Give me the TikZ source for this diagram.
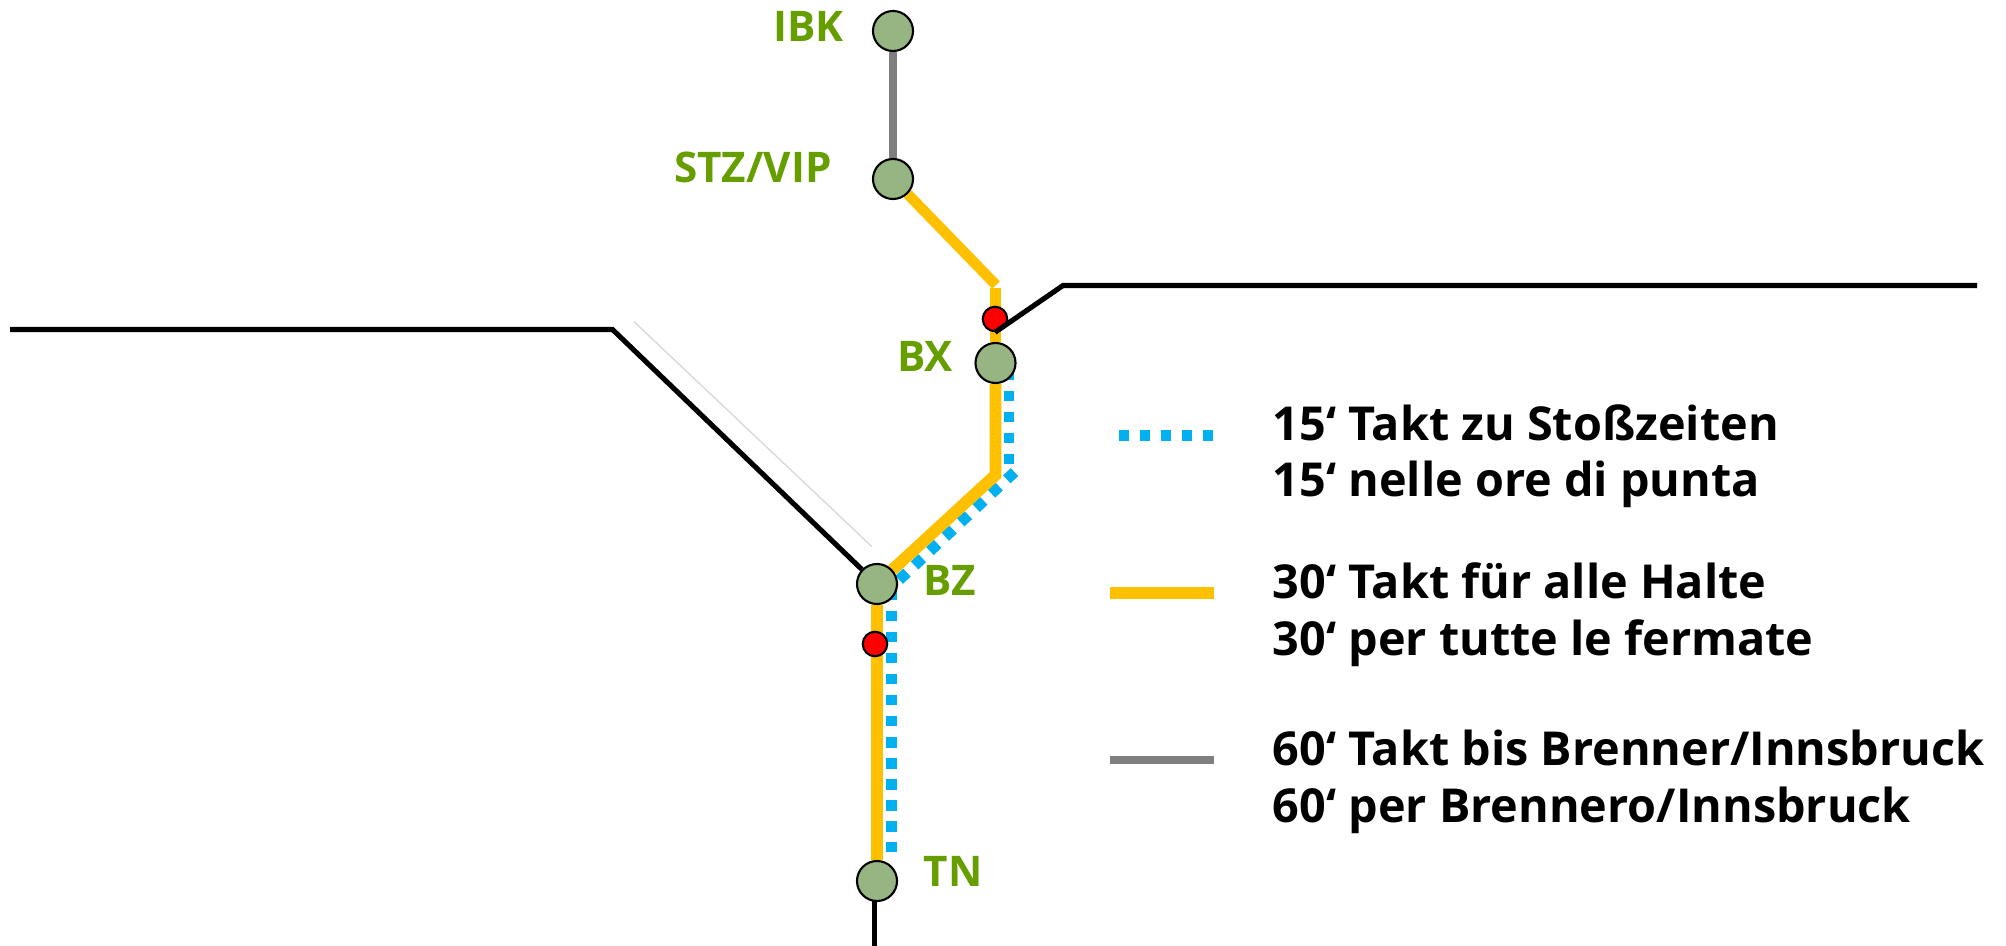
\documentclass[tikz,border=0pt]{standalone}
\usepackage{fontspec}
\setmainfont{Open Sans}
\usetikzlibrary{backgrounds}
\definecolor{stopfill}{HTML}{97B583}
\definecolor{labelgreen}{HTML}{669E00}
\definecolor{taktblue}{HTML}{00B0F0}
\definecolor{taktyellow}{HTML}{FFC000}
\definecolor{taktgrey}{HTML}{7F7F7F}
\tikzset{
  stop/.style={circle,draw=black,fill=stopfill,line width=0.6pt,inner sep=0pt,minimum size=0.4cm},
  halt/.style={circle,draw=black,fill=red,line width=0.6pt,inner sep=0pt,minimum size=0.245cm},
  stoplabel/.style={anchor=base west,inner sep=0pt,text=labelgreen,font=\fontsize{12}{14}\selectfont\bfseries},
  legendtext/.style={anchor=base west,inner sep=0pt,align=left,font=\fontsize{13.3}{15.93}\selectfont\bfseries},
  takt15/.style={draw=taktblue,line width=3.1pt,dash pattern=on 3pt off 2.98pt},
  takt30/.style={draw=taktyellow,line width=3.4pt},
  takt60/.style={draw=taktgrey,line width=2.5pt},
  border/.style={draw=black,line width=1.45pt}
}
\begin{document}
\begin{tikzpicture}[x=0.01cm,y=-0.01cm]
\useasboundingbox (0,0) rectangle (2006,946);

\node (IBK) at (893,31) [stop] {};
\node (STZ) at (893,179) [stop] {};
\node (BX) at (995.5,363) [stop] {};
\node (BZ) at (877,584) [stop] {};
\node (TN) at (877,881) [stop] {};
\node (HaltBX) at (995,319) [halt] {};
\node (HaltBZ) at (875,644) [halt] {};

\node (lblIBK) at (772.5,41.7) [stoplabel] {IBK};
\node (lblSTZ) at (673.5,183) [stoplabel] {STZ/VIP};
\node (lblBX) at (896.5,371.7) [stoplabel] {BX};
\node (lblBZ) at (922.5,595) [stoplabel] {BZ};
\node (lblTN) at (923,886) [stoplabel] {TN};

\coordinate (joinA) at (996,285);
\coordinate (joinA2) at (995.5,288);
\coordinate (joinB) at (995.5,475);
\coordinate (blueA) at (1009,369.75);
\coordinate (blueB) at (1009,469.75);
\coordinate (blueC) at (1014.5,472.1);
\coordinate (blueD) at (899,580);
\coordinate (blueE) at (891.7,589.75);
\coordinate (blueF) at (891.7,852.25);
\coordinate (westEnd) at (10,329.5);
\coordinate (westBend) at (612.5,329.5);
\coordinate (eastEnd) at (1977,285.5);
\coordinate (eastBend) at (1063,285.5);
\coordinate (southEnd) at (874.3,946);
\coordinate (ghostA) at (634,321.7);
\coordinate (ghostB) at (872,546.7);

\begin{scope}[on background layer]
\draw[takt60] (IBK) to (STZ);
\draw[draw=black!15,line width=0.4pt] (ghostA) to (ghostB);
\draw[border,line join=miter] (westEnd) -- (westBend) -- (BZ);
\draw[border] (TN.center -| southEnd) to (southEnd);
\draw[takt15] (blueA) to (blueB);
\draw[takt15] (blueC) to (blueD);
\draw[takt15] (blueE) to (blueF);
\draw[takt30,line width=3pt] (STZ) to (joinA);
\draw[takt30] (joinA2) to (BX);
\draw[takt30,line join=miter] (BX) -- (joinB) -- (BZ);
\draw[takt30] (BZ) to (TN);
\end{scope}

\draw[border] (eastEnd) -- (eastBend) -- (HaltBX.south);

\coordinate (leg15a) at (1118.6,435.3);
\coordinate (leg15b) at (1213.8,435.3);
\coordinate (leg30a) at (1110,593.3);
\coordinate (leg30b) at (1214,593.3);
\coordinate (leg60a) at (1110,760);
\coordinate (leg60b) at (1214,760);
\draw[takt15] (leg15a) to (leg15b);
\draw[takt30] (leg30a) to (leg30b);
\draw[takt60] (leg60a) to (leg60b);

\node (txt15) at (1272,497) [legendtext] {15‘ Takt zu Stoßzeiten\\15‘ nelle ore di punta};
\node (txt30) at (1272,655) [legendtext] {30‘ Takt für alle Halte\\30‘ per tutte le fermate};
\node (txt60) at (1272,822) [legendtext] {60‘ Takt bis Brenner/Innsbruck\\60‘ per Brennero/Innsbruck};
\end{tikzpicture}
\end{document}
